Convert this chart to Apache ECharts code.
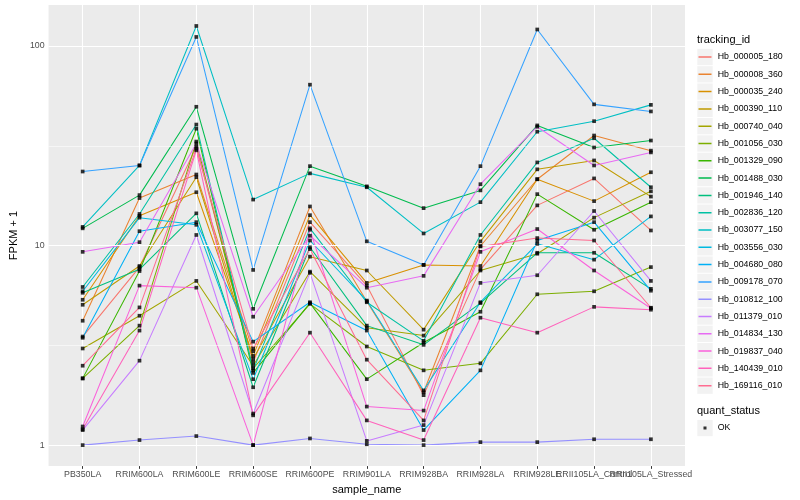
<!DOCTYPE html>
<html>
<head>
<meta charset="utf-8">
<script src="https://cdn.jsdelivr.net/npm/echarts@6/dist/echarts.min.js"></script>
<style>html,body{margin:0;padding:0;background:#fff}#c{width:800px;height:500px}</style>
</head>
<body>
<div id="c"></div>
<script>
// categories (x axis)
const sampleNames = ['PB350LA','RRIM600LA','RRIM600LE','RRIM600SE','RRIM600PE','RRIM901LA','RRIM928BA','RRIM928LA','RRIM928LE','RRII105LA_Control','RRII105LA_Stressed'];
// y tick labels
const yTicks = [1, 10, 100];
const yMinor = [3.1623, 31.623];
// series names
const trackingIds = ['Hb_000005_180','Hb_000008_360','Hb_000035_240','Hb_000390_110','Hb_000740_040','Hb_001056_030','Hb_001329_090','Hb_001488_030','Hb_001946_140','Hb_002836_120','Hb_003077_150','Hb_003556_030','Hb_004680_080','Hb_009178_070','Hb_010812_100','Hb_011379_010','Hb_014834_130','Hb_019837_040','Hb_140439_010','Hb_169116_010'];
// FPKM + 1 values per tracking id (one value per sample)
const Hb_000005_180 = [3.5, 7.8, 31.3, 2.6, 13.1, 6.3, 1.78, 7.6, 15.9, 21.7, 11.9];
const Hb_000008_360 = [4.2, 17.3, 22.7, 2.95, 15.7, 5.25, 1.84, 9.95, 21.5, 35.6, 29.9];
const Hb_000035_240 = [5.35, 14.1, 18.5, 2.8, 14.2, 6.5, 8.0, 7.9, 21.5, 16.7, 23.3];
const Hb_000390_110 = [5.05, 7.9, 22, 2.7, 8.8, 7.5, 3.79, 10.5, 24.1, 26.7, 17.6];
const Hb_000740_040 = [3.05, 4.45, 6.65, 2.5, 7.4, 3.87, 3.54, 7.5, 9.1, 13.8, 18.7];
const Hb_001056_030 = [2.16, 3.97, 33.2, 2.42, 5.1, 3.12, 2.37, 2.57, 5.7, 5.9, 7.8];
const Hb_001329_090 = [2.16, 7.45, 38.5, 2.3, 5.15, 2.14, 3.27, 4.66, 18.1, 12.0, 16.5];
const Hb_001488_030 = [12.2, 17.9, 49.6, 4.82, 25, 19.8, 15.4, 18.9, 40, 31, 33.6];
const Hb_001946_140 = [5.8, 7.6, 14.5, 1.95, 9.8, 3.97, 3.18, 5.15, 9.2, 9.2, 6.07];
const Hb_002836_120 = [6.2, 14.4, 40.4, 2.37, 12.2, 5.2, 3.33, 11.3, 26.1, 34.5, 19.6];
const Hb_003077_150 = [12.4, 25.2, 126, 17, 23, 19.6, 11.5, 16.5, 37.2, 42, 50.7];
const Hb_003556_030 = [5.9, 13.8, 12.7, 2.14, 10.6, 5.3, 1.88, 5.2, 10.2, 8.5, 14.0];
const Hb_004680_080 = [3.45, 11.8, 13.1, 3.3, 5.2, 3.75, 1.19, 2.37, 10.6, 13.1, 5.94];
const Hb_009178_070 = [23.5, 25.2, 111, 7.55, 64, 10.5, 8.0, 25, 121, 51, 47];
const Hb_010812_100 = [1.0, 1.06, 1.11, 1.0, 1.08, 1.01, 1.0, 1.035, 1.035, 1.07, 1.07];
const Hb_011379_010 = [1.19, 2.65, 11.3, 1.44, 7.3, 1.05, 1.26, 6.5, 7.1, 14.9, 6.65];
const Hb_014834_130 = [9.3, 10.4, 32.5, 4.4, 11.2, 6.15, 7.05, 20.3, 39.4, 25.2, 29.3];
const Hb_019837_040 = [1.24, 6.3, 6.15, 1.0, 12.0, 1.56, 1.49, 9.3, 12.1, 7.5, 4.85];
const Hb_140439_010 = [1.2, 3.75, 30.0, 1.41, 3.66, 1.33, 1.06, 4.35, 3.66, 4.93, 4.77];
const Hb_169116_010 = [2.5, 4.9, 30.6, 3.05, 9.6, 2.68, 1.33, 9.9, 10.9, 10.6, 4.88];

const seriesValues = [Hb_000005_180, Hb_000008_360, Hb_000035_240, Hb_000390_110, Hb_000740_040, Hb_001056_030, Hb_001329_090, Hb_001488_030, Hb_001946_140, Hb_002836_120, Hb_003077_150, Hb_003556_030, Hb_004680_080, Hb_009178_070, Hb_010812_100, Hb_011379_010, Hb_014834_130, Hb_019837_040, Hb_140439_010, Hb_169116_010];
const colors = ['#F8766D','#EA8331','#D89000','#C09B00','#A3A500','#7CAE00','#39B600','#00BB4E','#00BF7D','#00C1A3','#00BFC4','#00BAE0','#00B0F6','#35A2FF','#9590FF','#C77CFF','#E76BF3','#FA62DB','#FF62BC','#FF6C91'];
const quantStatus = 'OK';

const FONT = 'Liberation Sans';
const idx = sampleNames.map((_, i) => i);
const idxA = idx.filter(i => i % 2 === 0);  // labels split over two axes so neighbours never collide
const idxB = idx.filter(i => i % 2 === 1);

const chart = echarts.init(document.getElementById('c'), null, {renderer: 'canvas'});

const series = [];
// gridlines drawn through the axes' scales
series.push({
  name: '_grid', type: 'line', data: [], z: 1, silent: true, symbol: 'none',
  markLine: {
    silent: true, symbol: ['none', 'none'], animation: false, label: {show: false},
    data: [
      ...yMinor.map(v => ({yAxis: v, lineStyle: {color: '#FFFFFF', width: 0.55, type: 'solid'}})),
      ...yTicks.map(v => ({yAxis: v, lineStyle: {color: '#FFFFFF', width: 1.1, type: 'solid'}})),
      ...idx.map(v => ({xAxis: v, lineStyle: {color: '#FFFFFF', width: 1.1, type: 'solid'}}))
    ]
  }
});
trackingIds.forEach((name, s) => {
  series.push({
    name: name, type: 'line', color: colors[s], symbol: 'none', z: 3,
    lineStyle: {width: 1.05, color: colors[s]},
    itemStyle: {color: colors[s]},
    data: seriesValues[s].map((v, i) => [i, v]),
    animation: false
  });
});
const pts = [];
seriesValues.forEach(arr => arr.forEach((v, i) => pts.push([i, v])));
series.push({
  name: quantStatus, type: 'scatter', symbol: 'rect', symbolSize: 3.7, z: 5,
  itemStyle: {color: '#000000'}, data: pts, animation: false
});

const KEY_TOP = 48.35, KEY_H = 17.3, KEY_X = 697.3, KEY_W = 15.4;
const keyRects = trackingIds.map((_, i) => ({
  type: 'rect', shape: {x: KEY_X, y: KEY_TOP + KEY_H * i + 0.5, width: KEY_W, height: KEY_H - 1},
  style: {fill: '#F2F2F2'}, z: -1
}));
keyRects.push({type: 'rect', shape: {x: KEY_X, y: 419.4 + 0.5, width: KEY_W, height: KEY_H - 1}, style: {fill: '#F2F2F2'}, z: -1});

const xLabelBase = {formatter: v => sampleNames[v], fontFamily: FONT, fontSize: 8.8, color: '#4D4D4D', margin: 4, hideOverlap: false, showMaxLabel: true, showMinLabel: true};

chart.setOption({
  backgroundColor: '#FFFFFF',
  animation: false,
  grid: {left: 40, top: 5, width: 645, height: 463, show: true, backgroundColor: '#EBEBEB', borderWidth: 0},
  xAxis: [
    {
      type: 'value', min: -0.6, max: 10.6,
      name: 'sample_name', nameLocation: 'middle', nameGap: 14,
      nameTextStyle: {fontFamily: FONT, fontSize: 11, color: '#000'},
      axisLine: {show: false}, splitLine: {show: false},
      axisTick: {show: true, customValues: idx, length: 2.75, lineStyle: {color: '#333333', width: 1}},
      axisLabel: Object.assign({customValues: idxA}, xLabelBase)
    },
    {
      type: 'value', min: -0.6, max: 10.6, position: 'bottom', offset: 0,
      axisLine: {show: false}, splitLine: {show: false}, axisTick: {show: false},
      axisLabel: Object.assign({customValues: idxB}, xLabelBase)
    }
  ],
  yAxis: {
    type: 'log', logBase: 10, min: 0.785, max: 160.5,
    name: 'FPKM + 1', nameLocation: 'middle', nameGap: 23, nameRotate: 90,
    nameTextStyle: {fontFamily: FONT, fontSize: 11, color: '#000'},
    axisLine: {show: false}, splitLine: {show: false}, minorSplitLine: {show: false},
    axisTick: {show: true, customValues: yTicks, length: 2.75, lineStyle: {color: '#333333', width: 1}},
    axisLabel: {customValues: yTicks, formatter: v => String(v), fontFamily: FONT, fontSize: 8.8, color: '#4D4D4D', margin: 4}
  },
  legend: [
    {
      data: trackingIds, orient: 'vertical', left: KEY_X, top: KEY_TOP, padding: 0,
      itemWidth: KEY_W, itemHeight: KEY_H, itemGap: 0, selectedMode: false,
      icon: 'path://M0,0h0.01v0.01h-0.01z M15.4,17.3h0.01v0.01h-0.01z M1.2,7.9h13v1.5h-13z',
      textStyle: {fontFamily: FONT, fontSize: 8.8, color: '#000'}
    },
    {
      data: [quantStatus], orient: 'vertical', left: KEY_X, top: 419.4, padding: 0,
      itemWidth: KEY_W, itemHeight: KEY_H, itemGap: 0, selectedMode: false,
      icon: 'path://M0,0h0.01v0.01h-0.01z M15.4,17.3h0.01v0.01h-0.01z M6.2,7.15h3v3h-3z',
      itemStyle: {color: '#000'},
      textStyle: {fontFamily: FONT, fontSize: 8.8, color: '#000'}
    }
  ],
  graphic: [
    ...keyRects,
    {type: 'text', x: 697, y: 40, style: {text: 'tracking_id', fontFamily: FONT, fontSize: 11, fill: '#000', verticalAlign: 'middle', align: 'left'}},
    {type: 'text', x: 697, y: 411, style: {text: 'quant_status', fontFamily: FONT, fontSize: 11, fill: '#000', verticalAlign: 'middle', align: 'left'}}
  ],
  series: series
});
</script>
</body>
</html>
